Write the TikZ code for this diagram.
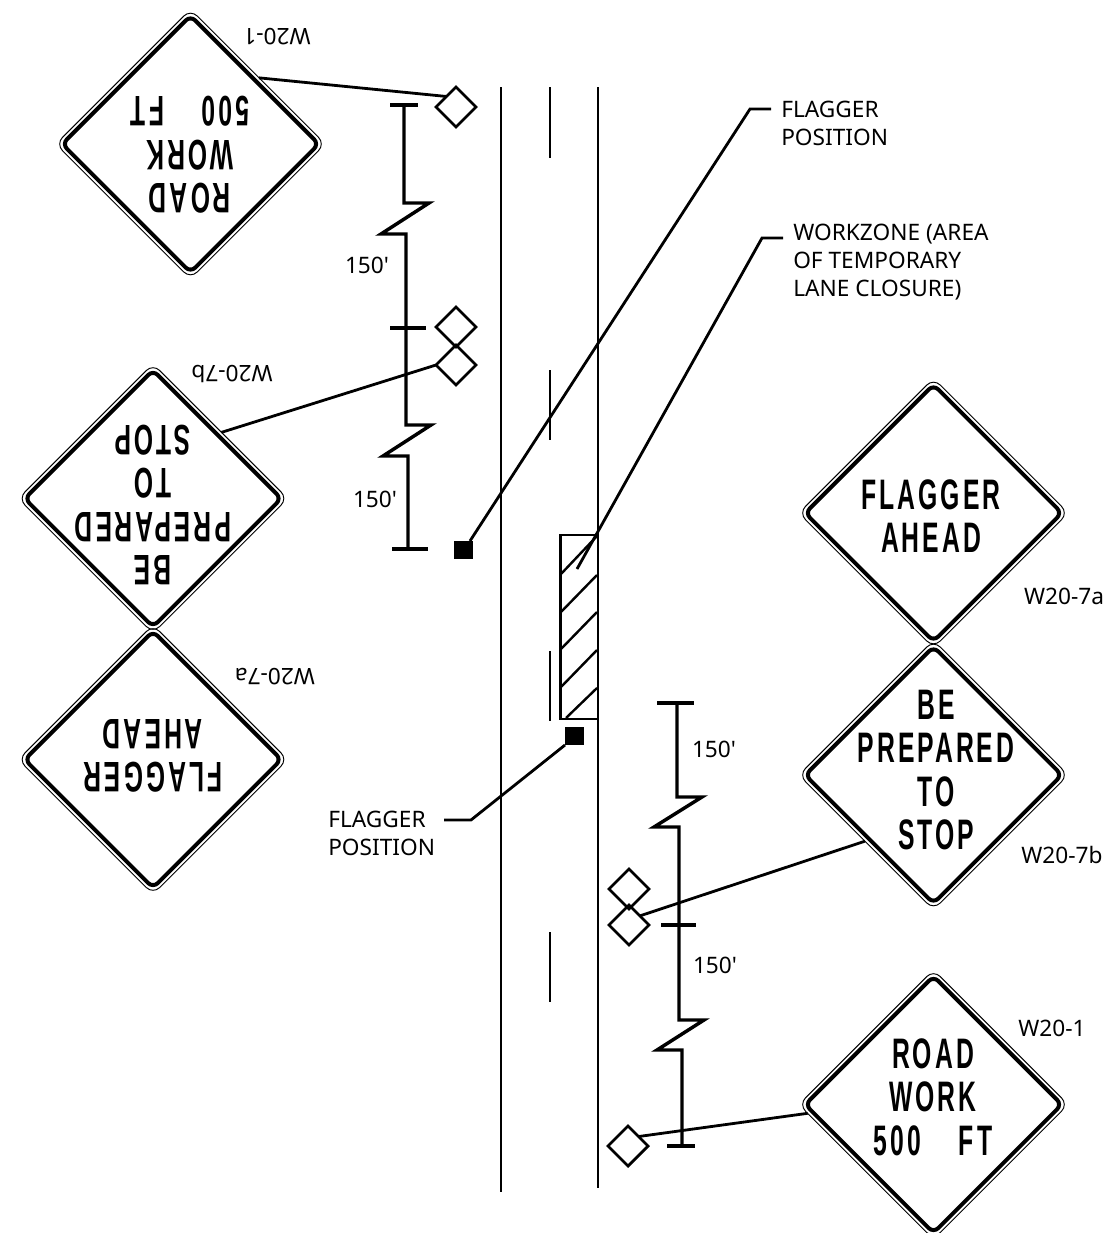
\documentclass[tikz,border=0pt]{standalone}
\usepackage{fontspec}
\usetikzlibrary{shapes.geometric}
\setmainfont{Noto Sans}
\newfontfamily\signfont[FakeStretch=0.58,LetterSpace=7]{Liberation Sans Bold}
\tikzset{
  x=0.75pt,y=-0.75pt,
  signouter/.style={shape=diamond,aspect=1,draw,line width=0.7pt,inner sep=0,outer sep=0,minimum size=202pt,rounded corners=7pt},
  signinner/.style={shape=diamond,aspect=1,draw,line width=3pt,inner sep=0,outer sep=0,minimum size=192.5pt,rounded corners=5pt},
  signtext/.style={font=\fontsize{32}{32.6}\selectfont\signfont,align=center,inner sep=0},
  lbl/.style={font=\fontsize{17}{21}\selectfont,align=left,inner sep=0,anchor=west},
  code/.style={font=\fontsize{17}{19}\selectfont,inner sep=0},
  mark diamond/.style={shape=diamond,aspect=1,draw,line width=2.1pt,inner sep=0,outer sep=0,minimum size=30pt},
  flagbox/.style={fill=black,inner sep=0,outer sep=0,minimum width=14.2pt,minimum height=13.5pt},
  road/.style={line width=2.1pt},
  dimline/.style={line width=2.6pt,line join=miter},
  leader/.style={line width=2.1pt},
  hatch/.style={line width=1.8pt},
}
\begin{document}
\begin{tikzpicture}
\useasboundingbox[fill=white] (0,0) rectangle (1110,1233);
% road
\draw[road] (501,87) -- (501,1192);
\draw[road] (598,87) -- (598,1188);
\draw[road] (550,87) -- (550,158);
\draw[road] (550,370) -- (550,440);
\draw[road] (550,651) -- (550,721);
\draw[road] (550,932) -- (550,1002);
% work zone
\draw[road] (560.5,535) rectangle (598,719);
\draw[hatch] (561,574) -- (597,536);
\draw[hatch] (561,612) -- (597,575);
\draw[hatch] (561,649) -- (597,612);
\draw[hatch] (561,687) -- (597,650);
\draw[hatch] (566,718) -- (597,688);
% signs
\foreach \n/\cx/\cy in {s1/190.5/144,s2/153/498.5,s3/153/759.5,s4/933.5/513,s5/933.5/775,s6/933.5/1104.5}{
  \node[signouter] (\n) at (\cx,\cy) {};
  \node[signinner] (\n i) at (\cx,\cy) {};
}
\node[signtext,rotate=180] (t1) at (190,155) {ROAD\\WORK\\500\hspace{0.89em}FT};
\node[signtext,rotate=180] (t2) at (153,505) {BE\\PREPARED\\TO\\STOP};
\node[signtext,rotate=180] (t3) at (153,756) {FLAGGER\\AHEAD};
\node[signtext] (t4) at (931,516) {FLAGGER\\AHEAD};
\node[signtext] (t5) at (936,770) {BE\\PREPARED\\TO\\STOP};
\node[signtext] (t6) at (933,1097) {ROAD\\WORK\\500\hspace{0.89em}FT};
% codes
\node[code,rotate=180] (c1) at (277,37) {W20-1};
\node[code,rotate=180] (c2) at (232,374) {W20-7b};
\node[code,rotate=180] (c3) at (275,677) {W20-7a};
\node[code] (c4) at (1064,596) {W20-7a};
\node[code] (c5) at (1062,855) {W20-7b};
\node[code] (c6) at (1052,1028) {W20-1};
% small sign markers
\node[mark diamond] (m1) at (456,107) {};
\node[mark diamond] (m2) at (456,327) {};
\node[mark diamond] (m3) at (456,365) {};
\node[mark diamond] (m4) at (629,889) {};
\node[mark diamond] (m5) at (629,925) {};
\node[mark diamond] (m6) at (628,1146) {};
\draw[leader] (s1.44) -- (m1.132);
\draw[leader] (s2.44) -- (m3.west);
\draw[leader] (s5.224.6) -- (m5.40);
\draw[leader] (s6.184) -- (m6.42);
% dimensions
\draw[dimline] (390,105) -- (418,105);
\draw[dimline] (404,105) -- (404,203) -- (429,203) -- (381,234) -- (406,234) -- (406,425) -- (431,425) -- (383,456) -- (408,456) -- (408,549);
\draw[dimline] (390,328) -- (426,328);
\draw[dimline] (392,549) -- (428,549);
\draw[dimline] (657,703) -- (694,703);
\draw[dimline] (677,703) -- (677,797) -- (702,797) -- (654,827) -- (679,827) -- (679,1020) -- (704,1020) -- (657,1050) -- (682,1050) -- (682,1146);
\draw[dimline] (661,925) -- (696,925);
\draw[dimline] (667,1146) -- (695,1146);
\node[code] (d1) at (367,265) {150\textquotesingle};
\node[code] (d2) at (375,499) {150\textquotesingle};
\node[code] (d3) at (714,749) {150\textquotesingle};
\node[code] (d4) at (715,965) {150\textquotesingle};
% flagger positions
\node[flagbox] (f1) at (463.5,550) {};
\node[flagbox] (f2) at (574.5,736) {};
\coordinate (b1) at (750,109);
\coordinate (b1e) at (771,109);
\coordinate (b2) at (762,238);
\coordinate (b2e) at (783,238);
\coordinate (wz) at (577,569);
\coordinate (b3) at (471,820);
\coordinate (b3e) at (444,820);
\draw[leader] (f1.north east) ++(-3,0) -- (b1) -- (b1e);
\draw[leader] (wz) -- (b2) -- (b2e);
\draw[leader] (f2.south west) -- (b3) -- (b3e);
\node[lbl] (l1) at (781,123) {FLAGGER\\POSITION};
\node[lbl] (l2) at (793,262.5) {WORKZONE (AREA\\OF TEMPORARY\\LANE CLOSURE)};
\node[lbl] (l3) at (328,833) {FLAGGER\\POSITION};
\end{tikzpicture}
\end{document}
